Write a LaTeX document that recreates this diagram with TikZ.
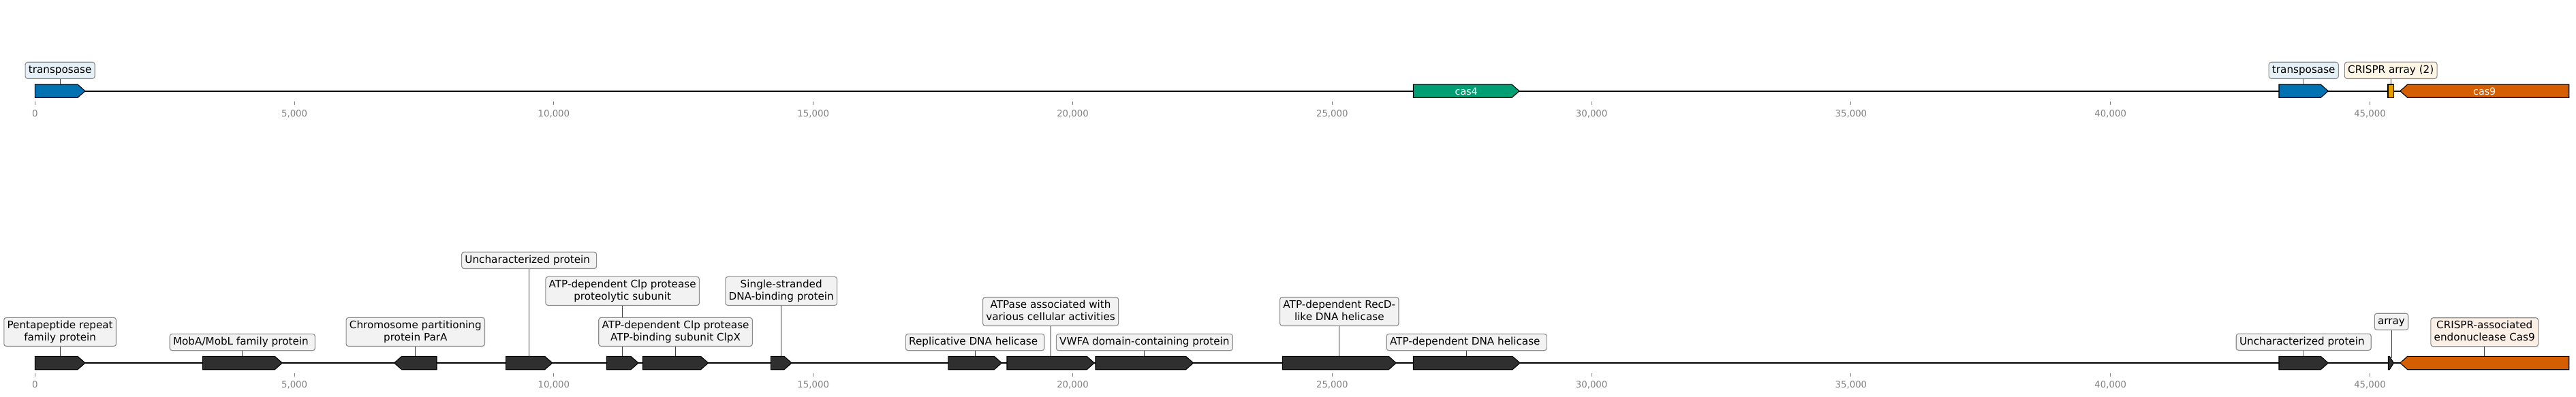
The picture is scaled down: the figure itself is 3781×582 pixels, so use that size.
\documentclass[tikz,border=0pt]{standalone}
\usepackage{fontspec}
\setmainfont{DejaVu Sans}
\definecolor{cblue}{HTML}{0072B2}
\definecolor{cgreen}{HTML}{009E73}
\definecolor{corange}{HTML}{E69F00}
\definecolor{cverm}{HTML}{D55E00}
\definecolor{cdark}{HTML}{2F2F2F}
\definecolor{lgray}{HTML}{F2F2F2}
\definecolor{lblue}{HTML}{E6F1F7}
\definecolor{lcream}{HTML}{FDF5E6}
\definecolor{lpeach}{HTML}{FBEFE6}
\definecolor{lborder}{HTML}{8C8C8C}
\definecolor{tgray}{HTML}{808080}
\pgfdeclarelayer{bg}
\pgfsetlayers{bg,main}
\newcommand\lst{\rule[-3.6pt]{0pt}{15pt}}
\newcommand\genefwd[5]{%
  \path[#5] (#2,#4-9.7) -- (#3-11,#4-9.7) -- (#3,#4) -- (#3-11,#4+9.7) -- (#2,#4+9.7) -- cycle;
  \coordinate (#1) at ({(#2+#3)/2},#4-9.7);}
\newcommand\generev[5]{%
  \path[#5] (#2,#4) -- (#2+11,#4-9.7) -- (#3,#4-9.7) -- (#3,#4+9.7) -- (#2+11,#4+9.7) -- cycle;
  \coordinate (#1) at ({(#2+#3)/2},#4-9.7);}
\begin{document}
\begin{tikzpicture}[x=1pt,y=-1pt,
  gene/.style={draw=black, line width=1.1pt, line join=miter},
  gblue/.style={gene, fill=cblue},
  ggreen/.style={gene, fill=cgreen},
  gorange/.style={gene, fill=corange},
  gverm/.style={gene, fill=cverm},
  gdark/.style={gene, fill=cdark},
  lbl/.style={draw=lborder, fill=lgray, rounded corners=3.5pt, line width=1.1pt,
    inner xsep=4.8pt, inner ysep=4.6pt, align=center, anchor=south,
    font=\fontsize{15.2pt}{17.7pt}\selectfont},
  leader/.style={draw=black!75, line width=0.9pt},
  axisline/.style={draw=black, line width=1.8pt},
  tickmark/.style={draw=tgray, line width=0.9pt},
  ticklbl/.style={text=tgray, inner sep=0pt, anchor=base, font=\fontsize{13.3pt}{15pt}\selectfont},
  intext/.style={text=white, inner sep=0pt, anchor=base, font=\fontsize{14.3pt}{16pt}\selectfont}]
\useasboundingbox (0,0) rectangle (3781,582);

% axis lines
\begin{pgfonlayer}{bg}
\draw[axisline] (51.3,133.7) -- (3770.7,133.7);
\draw[axisline] (51.3,533) -- (3770.7,533);
\end{pgfonlayer}

% ticks
\foreach \k/\t in {0/0,1/{5,000},2/{10,000},3/{15,000},4/{20,000},5/{25,000},6/{30,000},7/{35,000},8/{40,000},9/{45,000}} {
  \draw[tickmark] (51.3+\k*380.8,149) -- (51.3+\k*380.8,154);
  \node[ticklbl] (tta\k) at (51.3+\k*380.8,171.5) {\t};
  \draw[tickmark] (51.3+\k*380.8,548) -- (51.3+\k*380.8,553);
  \node[ticklbl] (ttb\k) at (51.3+\k*380.8,569.9) {\t};
}

% top track genes
\genefwd{ta}{51.3}{125}{133.7}{gblue}
\genefwd{tb}{2074.3}{2230}{133.7}{ggreen}
\genefwd{tc}{3345}{3417.3}{133.7}{gblue}
\path[gorange] (3505,124) rectangle (3513.3,143.4);
\coordinate (td) at (3509.2,124);
\generev{te}{3522.7}{3770.7}{133.7}{gverm}
\node[intext] (cas4t) at (2152.2,139.9) {cas4};
\node[intext] (cas9t) at (3646.7,139.9) {cas9};

% top labels
\node[lbl, fill=lblue] (Lta) at (88.15,116) {\lst transposase};
\node[lbl, fill=lblue] (Ltc) at (3381.2,116) {\lst transposase};
\node[lbl, fill=lcream] (Ltd) at (3509.2,116) {\lst CRISPR array (2)};

% bottom track genes
\genefwd{b1}{51.3}{125}{533}{gdark}
\genefwd{b2}{297.3}{414.3}{533}{gdark}
\generev{b3}{578.6}{641}{533}{gdark}
\genefwd{b4}{742.6}{810.7}{533}{gdark}
\genefwd{b5}{890.3}{937}{533}{gdark}
\genefwd{b6}{943.5}{1039.6}{533}{gdark}
\genefwd{b7}{1131.4}{1162}{533}{gdark}
\genefwd{b8}{1391.8}{1470.3}{533}{gdark}
\genefwd{b9}{1478}{1606.2}{533}{gdark}
\genefwd{b10}{1608}{1751.6}{533}{gdark}
\genefwd{b11}{1882.3}{2049.3}{533}{gdark}
\genefwd{b12}{2074.3}{2231}{533}{gdark}
\genefwd{b13}{3345}{3417.3}{533}{gdark}
\path[gdark] (3505.3,523.3) -- (3507.3,523.3) -- (3513.3,533) -- (3507.3,542.7) -- (3505.3,542.7) -- cycle;
\coordinate (b14) at (3510,526);
\generev{b15}{3522.7}{3770.7}{533}{gverm}

% bottom labels
\node[lbl] (L1) at (88.15,509) {\lst Pentapeptide repeat\\\lst family protein};
\node[lbl] (L2) at (355.8,515.3) {\lst MobA/MobL family protein\kern4.8pt};
\node[lbl] (L3) at (609.8,509) {\lst Chromosome partitioning\\\lst protein ParA};
\node[lbl] (L4) at (776.65,395) {\lst Uncharacterized protein\kern4.8pt};
\node[lbl] (L5) at (913.65,449) {\lst ATP-dependent Clp protease\\\lst proteolytic subunit};
\node[lbl] (L6) at (991.55,509) {\lst ATP-dependent Clp protease\\\lst ATP-binding subunit ClpX};
\node[lbl] (L7) at (1146.7,449) {\lst Single-stranded\\\lst DNA-binding protein};
\node[lbl] (L8) at (1431.05,515.3) {\lst Replicative DNA helicase\kern4.8pt};
\node[lbl] (L9) at (1542.1,479) {\lst ATPase associated with\\\lst various cellular activities};
\node[lbl] (L10) at (1679.8,515.3) {\lst VWFA domain-containing protein};
\node[lbl] (L11) at (1965.8,479) {\lst ATP-dependent RecD-\\\lst like DNA helicase};
\node[lbl] (L12) at (2152.65,515.3) {\lst ATP-dependent DNA helicase\kern4.8pt};
\node[lbl] (L13) at (3381.2,515) {\lst Uncharacterized protein\kern4.8pt};
\node[lbl] (L14) at (3510,485) {\lst array};
\node[lbl, fill=lpeach] (L15) at (3646.7,509.3) {\lst CRISPR-associated\\\lst endonuclease Cas9};

% leaders
\begin{pgfonlayer}{bg}
\foreach \a/\b in {Lta/ta,Ltc/tc,Ltd/td,L1/b1,L2/b2,L3/b3,L4/b4,L5/b5,L6/b6,L7/b7,L8/b8,L9/b9,L10/b10,L11/b11,L12/b12,L13/b13,L14/b14,L15/b15}
  \draw[leader] (\a.south) -- (\b);
\end{pgfonlayer}
\end{tikzpicture}
\end{document}
